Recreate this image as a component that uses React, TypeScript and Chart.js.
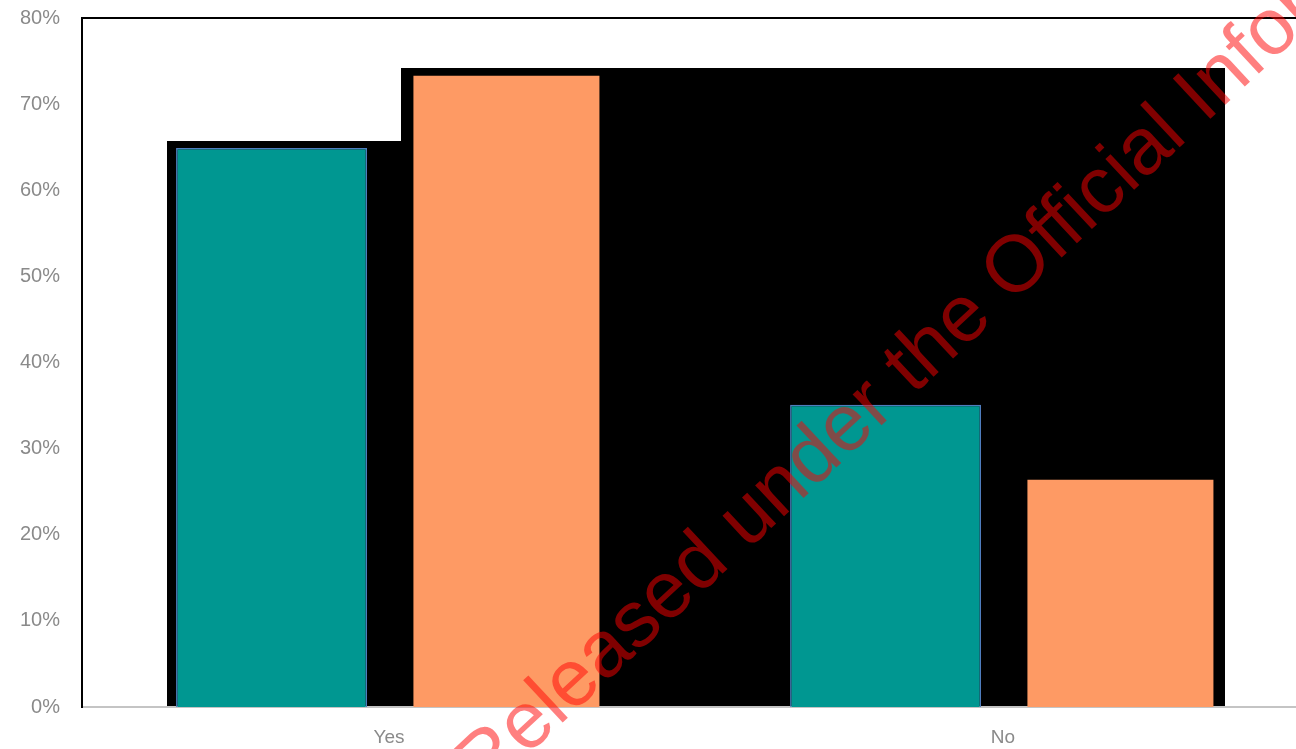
import React, { useEffect, useRef } from "react";
import { Chart, registerables } from "chart.js";

Chart.register(...registerables);

// Survey answers, share of respondents per group
const categories = ["Yes", "No"];
const groupA = [64.9, 35.1];
const groupB = [73.3, 26.4];
const yTicks = [0, 10, 20, 30, 40, 50, 60, 70, 80];
const watermarkText = "Released under the Official Information Act";

const TEAL = "#009791";
const TEAL_EDGE = "#4F7DBE";
const ORANGE = "#FE9A64";
const LABEL_GREY = "#8a8a8a";

// Black block laid behind the bars, following their stepped outline
const redactionPlugin = {
  id: "redaction",
  beforeDatasetsDraw(chart: any) {
    const a = chart.getDatasetMeta(0).data;
    const b = chart.getDatasetMeta(1).data;
    if (!a.length || !b.length) return;
    const { ctx, chartArea } = chart;
    const bottom = chartArea.bottom - 1;
    const aYes = a[0];
    const bYes = b[0];
    const bNo = b[1];
    const leftX = Math.round(aYes.x - aYes.width / 2 - 9);
    const stepX = Math.round(bYes.x - bYes.width / 2 - 12);
    const rightX = Math.round(bNo.x + bNo.width / 2 + 12);
    const lowTop = Math.round(aYes.y - 7);
    const highTop = Math.round(bYes.y - 8);
    ctx.save();
    ctx.fillStyle = "#000";
    ctx.beginPath();
    ctx.moveTo(leftX, bottom);
    ctx.lineTo(leftX, lowTop);
    ctx.lineTo(stepX, lowTop);
    ctx.lineTo(stepX, highTop);
    ctx.lineTo(rightX, highTop);
    ctx.lineTo(rightX, bottom);
    ctx.closePath();
    ctx.fill();
    ctx.restore();
  },
};

// Top edge of the plot frame
const frameTopPlugin = {
  id: "frameTop",
  afterDatasetsDraw(chart: any) {
    const { ctx, chartArea } = chart;
    ctx.save();
    ctx.strokeStyle = "#000";
    ctx.lineWidth = 2;
    ctx.beginPath();
    ctx.moveTo(chartArea.left - 1, chartArea.top);
    ctx.lineTo(chartArea.right, chartArea.top);
    ctx.stroke();
    ctx.restore();
  },
};

// Diagonal release stamp over everything
const watermarkPlugin = {
  id: "watermark",
  afterDraw(chart: any) {
    const { ctx } = chart;
    ctx.save();
    ctx.translate(484, 796);
    ctx.rotate((-43 * Math.PI) / 180);
    ctx.font = '80px "Liberation Sans", Arial, sans-serif';
    ctx.fillStyle = "rgba(255, 0, 0, 0.5)";
    ctx.textAlign = "left";
    ctx.textBaseline = "alphabetic";
    ctx.fillText(watermarkText, 0, 0);
    ctx.restore();
  },
};

export default function App() {
  const canvasRef = useRef<HTMLCanvasElement | null>(null);

  useEffect(() => {
    if (!canvasRef.current) return;
    const chart = new Chart(canvasRef.current, {
      type: "bar",
      data: {
        labels: categories,
        datasets: [
          {
            label: "Group A",
            data: groupA,
            backgroundColor: TEAL,
            borderColor: TEAL_EDGE,
            borderWidth: 1.5,
            categoryPercentage: 0.765,
            barPercentage: 0.813,
          },
          {
            label: "Group B",
            data: groupB,
            backgroundColor: ORANGE,
            borderWidth: 0,
            categoryPercentage: 0.765,
            barPercentage: 0.792,
          },
        ],
      },
      options: {
        responsive: false,
        animation: false,
        layout: { padding: { top: 18, right: 10, left: 0, bottom: 0 } },
        plugins: {
          legend: { display: false },
          tooltip: { enabled: false },
        },
        scales: {
          x: {
            grid: { display: false, drawTicks: false },
            border: { display: true, color: "#c4c4c4", width: 2 },
            ticks: {
              color: LABEL_GREY,
              font: { family: '"Liberation Sans", Arial, sans-serif', size: 19 },
              padding: 19,
            },
            afterFit(scale: any) {
              scale.height = 42;
              scale.paddingLeft = 0;
              scale.paddingRight = 0;
            },
          },
          y: {
            min: 0,
            max: 80,
            afterBuildTicks(scale: any) {
              scale.ticks = yTicks.map((v) => ({ value: v }));
            },
            grid: { display: false, drawTicks: false },
            border: { display: true, color: "#000", width: 2 },
            ticks: {
              color: LABEL_GREY,
              font: { family: '"Liberation Sans", Arial, sans-serif', size: 20 },
              padding: 22,
              callback: (v: any) => `${v}%`,
            },
            afterFit(scale: any) {
              scale.width = 82;
              scale.paddingTop = 0;
              scale.paddingBottom = 0;
            },
          },
        },
      },
      plugins: [redactionPlugin, frameTopPlugin, watermarkPlugin],
    });
    return () => chart.destroy();
  }, []);

  return (
    <div
      style={{
        position: "fixed",
        left: 0,
        top: 0,
        width: 1296,
        height: 749,
        overflow: "hidden",
        background: "#fff",
      }}
    >
      <canvas
        ref={canvasRef}
        width={1320}
        height={749}
        style={{ display: "block", width: 1320, height: 749 }}
      />
    </div>
  );
}
